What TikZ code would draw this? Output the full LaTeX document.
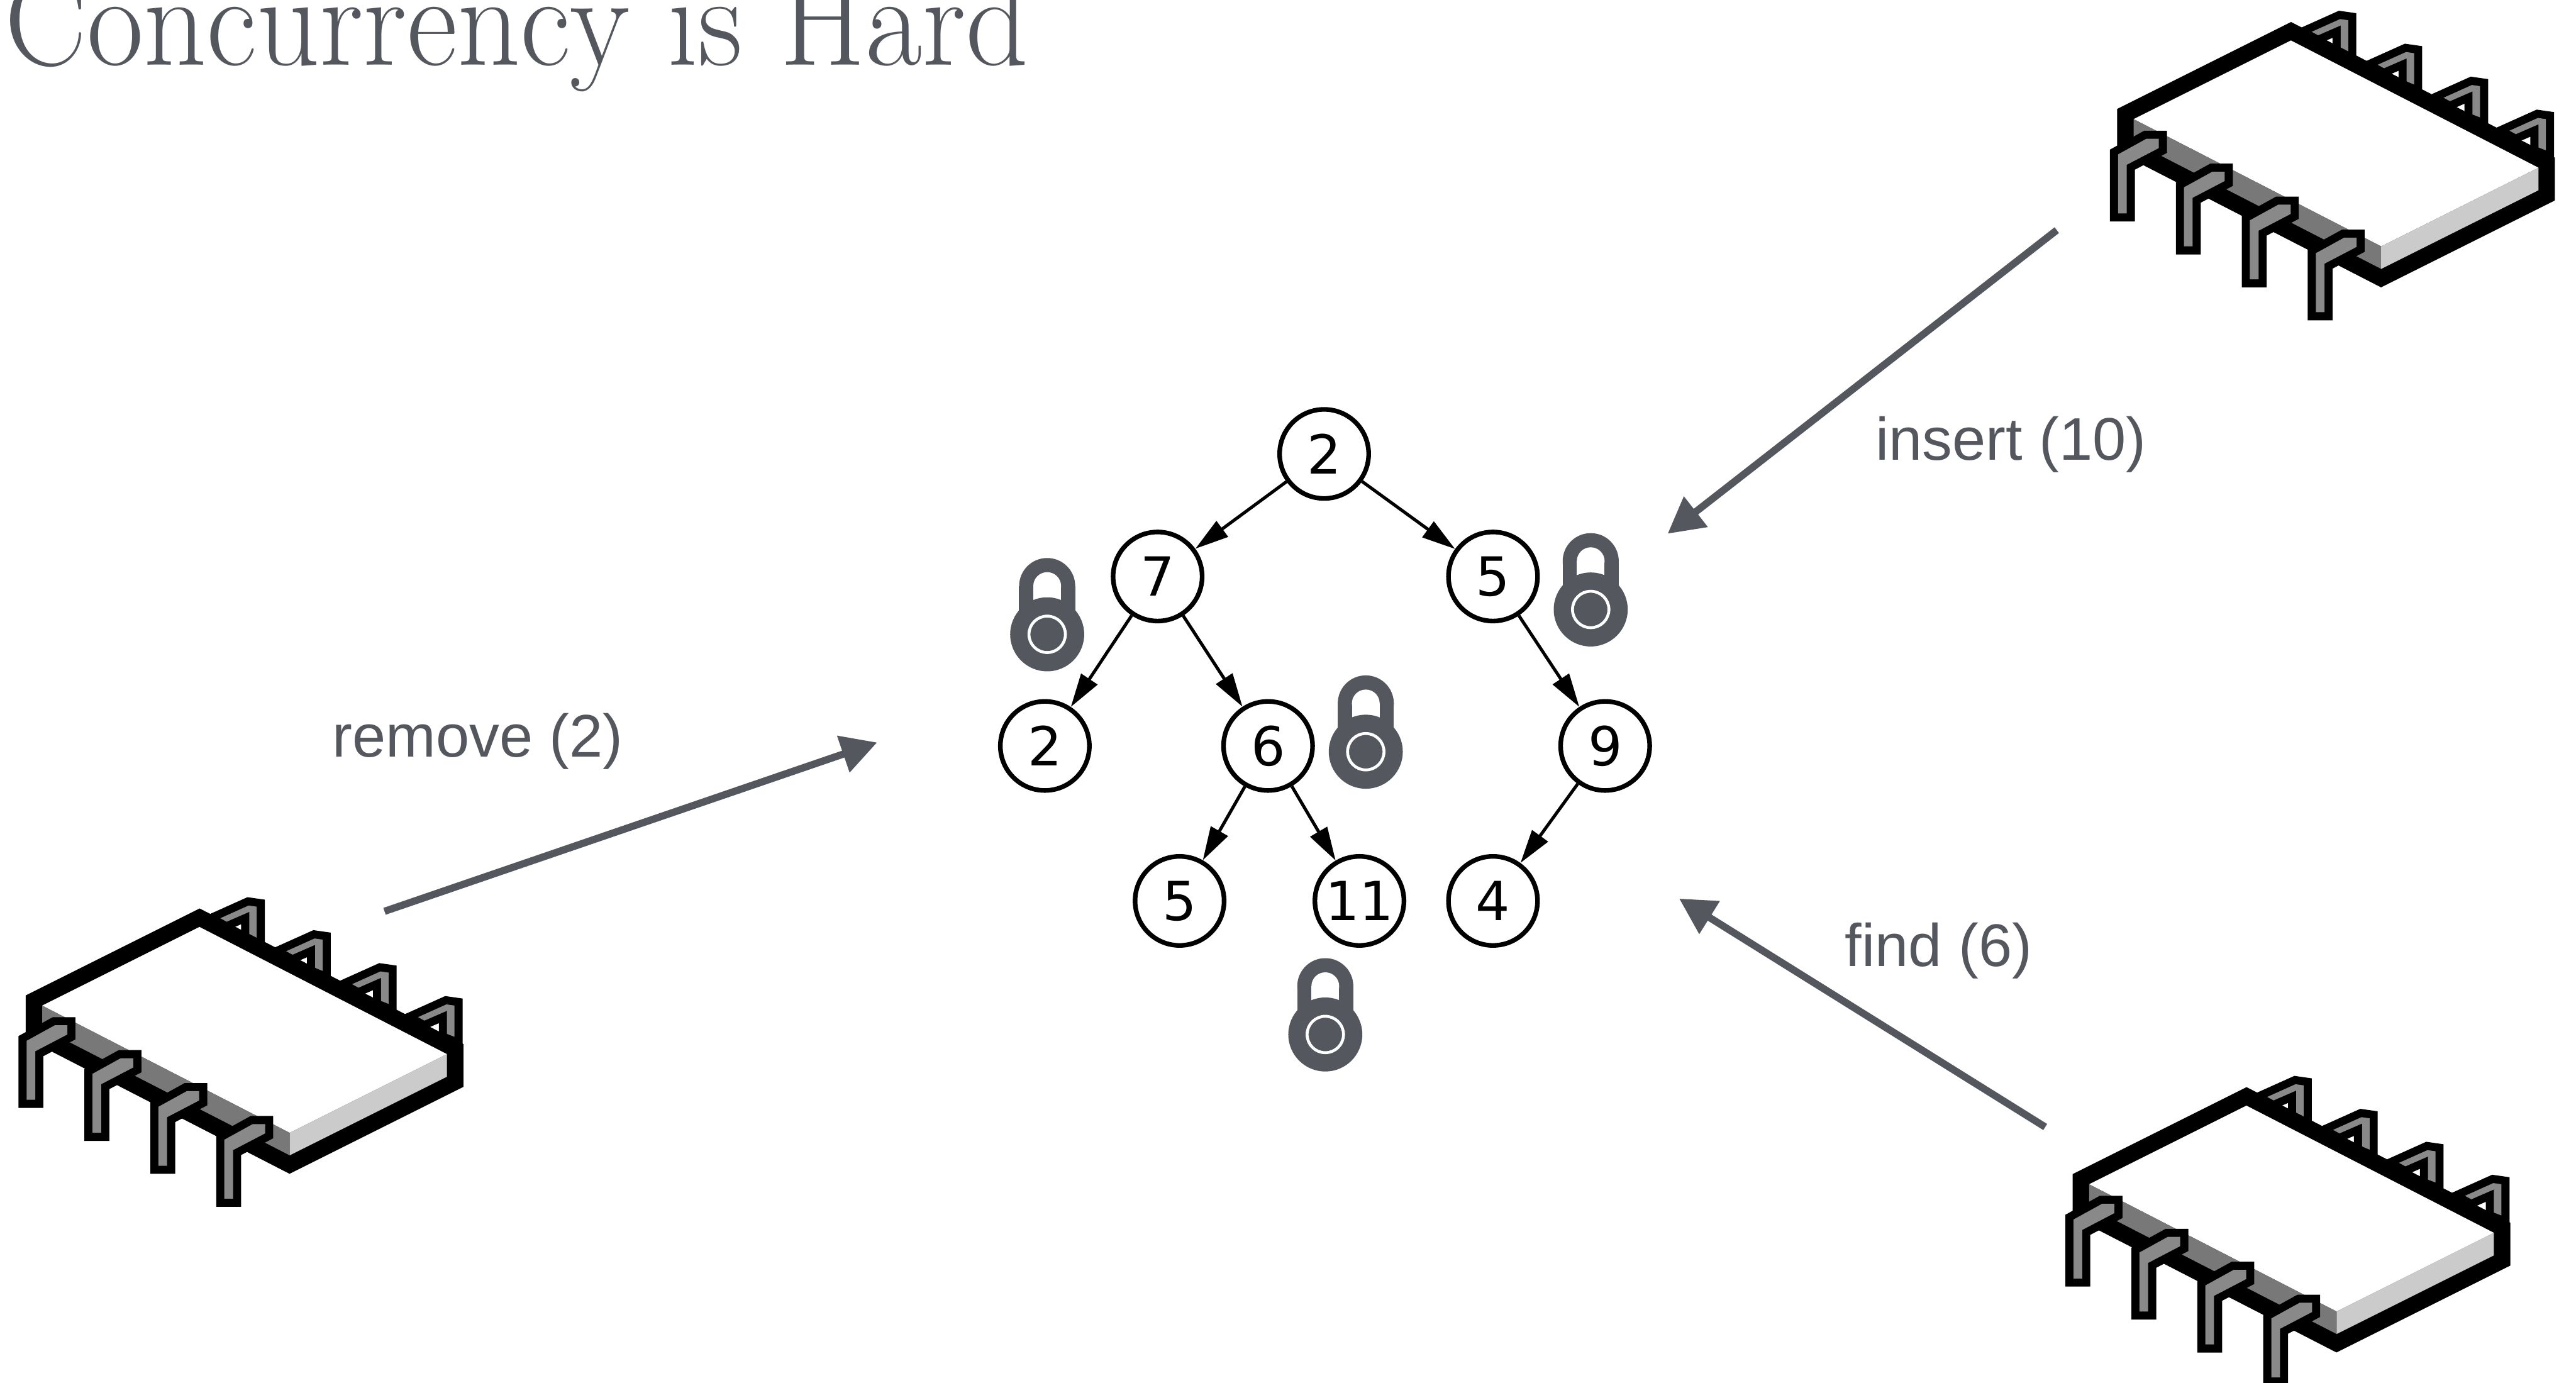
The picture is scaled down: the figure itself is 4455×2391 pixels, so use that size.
\documentclass[tikz,border=0pt]{standalone}
\usepackage{fontspec}
\usepackage{graphicx}
\usetikzlibrary{arrows.meta}
\setsansfont{Liberation Sans}
\newfontfamily\treefont{DejaVu Sans}

\definecolor{slate}{RGB}{84,88,94}
\definecolor{pingray}{RGB}{137,137,137}
\definecolor{chipdark}{RGB}{120,120,120}
\definecolor{chiplight}{RGB}{203,203,203}

\tikzstyle{treenode} = [circle, draw=black, fill=white, line width=0.8mm, minimum size=15.4mm, inner sep=0pt, font=\treefont\fontsize{26.5}{30}\selectfont]
\tikzstyle{treearrow} = [line width=0.55mm, -{Triangle[length=5.8mm, width=3.3mm]}]
\tikzstyle{oparrow} = [draw=slate, line width=1.25mm, -{Triangle[length=6.2mm, width=6.4mm]}]
\tikzstyle{oplabel} = [anchor=base west, inner sep=0pt, text=slate, font=\sffamily\fontsize{29.6}{34}\selectfont]
\tikzstyle{titletext} = [anchor=base west, inner sep=0pt, text=slate, font=\rmfamily\fontsize{64.6}{70}\selectfont]
\tikzstyle{chipleg} = [fill=pingray, preaction={draw=black, line width=2.8mm, line join=miter}]

% a DIP chip, #1,#2 = left corner of the top face
\newcommand{\chip}[2]{%
  \begin{scope}[shift={(#1,#2)}]
    % legs on the far side
    \foreach \k in {0,...,3}
      \fill[chipleg, shift={(114*\k,57*\k)}] (308,-151) -- (357,-173) -- (371,-171) -- (371,-117) -- (358,-122) -- (358,-162) -- (319,-145) -- cycle;
    % case
    \filldraw[black, line width=5.7mm, line join=miter] (0,0) -- (272,-136) -- (700,84) -- (700,123) -- (428,259) -- (0,39) -- cycle;
    \fill[white] (0,0) -- (272,-136) -- (700,84) -- (428,220) -- cycle;
    \fill[chipdark] (0,0) -- (428,220) -- (428,259) -- (0,39) -- cycle;
    \fill[chiplight] (428,220) -- (700,84) -- (700,123) -- (428,259) -- cycle;
    % legs on the near side
    \foreach \k in {0,...,3}
      \fill[chipleg, shift={(114*\k,57*\k)}] (22,34) -- (43.5,34) -- (43.5,50) -- (-12,79) -- (-12,163) -- (-27,163) -- (-27,61) -- cycle;
  \end{scope}}

% padlock, #1,#2 = centre of the body
\newcommand{\padlock}[2]{%
  \begin{scope}[shift={(#1,#2)}]
    \fill[slate] (0,-83.5) circle (48.5);
    \fill[slate] (-48.5,-83.5) rectangle (48.5,-30);
    \fill[white] (0,-83.5) circle (24);
    \fill[white] (-24,-83.5) rectangle (24,-50);
    \fill[slate] (0,0) circle (64);
    \draw[white, line width=0.5mm] (0,0) circle (31.5);
  \end{scope}}

\begin{document}
\begin{tikzpicture}[x=0.1mm, y=-0.1mm]
	\useasboundingbox (0,0) rectangle (4455,2391);
	\node (title) [titletext] at (7,113) {\scalebox{0.94}[1]{Concurrency is Hard}};

	% the processors
	\chip{3690}{206}
	\chip{73}{1739}
	\chip{3613}{2048}

	% the tree
	\node (root) [treenode] at (2290,785) {2};
	\node (n7) [treenode] at (2002,997) {7};
	\node (n5) [treenode] at (2582,997) {5};
	\node (n2) [treenode] at (1807,1290) {2};
	\node (n6) [treenode] at (2193,1290) {6};
	\node (n9) [treenode] at (2776,1290) {9};
	\node (n5b) [treenode] at (2040,1558) {5};
	\node (n11) [treenode] at (2351,1558) {11};
	\node (n4) [treenode] at (2582,1558) {4};
	\draw [treearrow] (root) -- (n7);
	\draw [treearrow] (root) -- (n5);
	\draw [treearrow] (n7) -- (n2);
	\draw [treearrow] (n7) -- (n6);
	\draw [treearrow] (n5) -- (n9);
	\draw [treearrow] (n6) -- (n5b);
	\draw [treearrow] (n6) -- (n11);
	\draw [treearrow] (n9) -- (n4);

	% locks held
	\padlock{1811}{1097}
	\padlock{2362}{1300}
	\padlock{2751}{1054}
	\padlock{2292}{1789}

	% operations
	\coordinate (insertfrom) at (3557,398);
	\coordinate (insertto) at (2884,923);
	\coordinate (findfrom) at (3537,1949);
	\coordinate (findto) at (2904,1554);
	\coordinate (removefrom) at (665,1576);
	\coordinate (removeto) at (1517,1284);
	\draw [oparrow] (insertfrom) -- (insertto);
	\draw [oparrow] (findfrom) -- (findto);
	\draw [oparrow] (removefrom) -- (removeto);
	\node (insertlabel) [oplabel] at (3243,796) {insert (10)};
	\node (findlabel) [oplabel] at (3190,1671) {find (6)};
	\node (removelabel) [oplabel] at (574,1309) {remove (2)};
\end{tikzpicture}
\end{document}
